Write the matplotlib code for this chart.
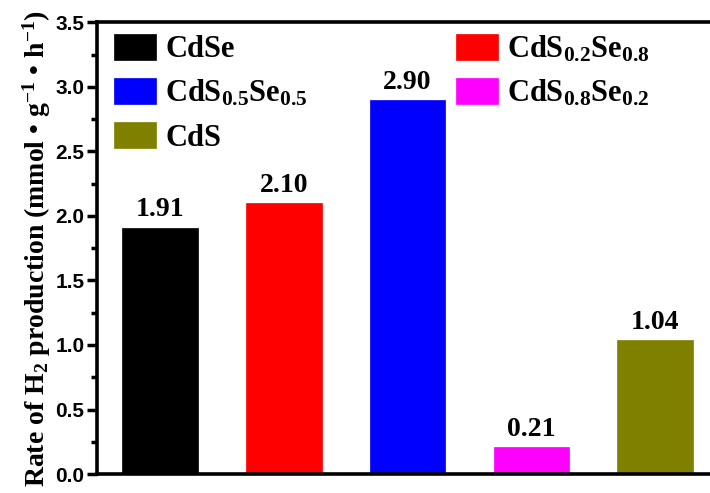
import matplotlib
matplotlib.use('Agg')
import matplotlib.pyplot as plt
from matplotlib.ticker import MultipleLocator

plt.rcParams['font.family'] = 'Liberation Serif'
plt.rcParams['font.weight'] = 'bold'
plt.rcParams['mathtext.fontset'] = 'custom'
plt.rcParams['mathtext.rm'] = 'Liberation Serif:bold'
plt.rcParams['mathtext.it'] = 'Liberation Serif:bold'
plt.rcParams['mathtext.bf'] = 'Liberation Serif:bold'

# H2 evolution rate for each photocatalyst
samples = ['CdSe', 'CdS$_{0.2}$Se$_{0.8}$', 'CdS$_{0.5}$Se$_{0.5}$',
           'CdS$_{0.8}$Se$_{0.2}$', 'CdS']
rates = [1.91, 2.10, 2.90, 0.21, 1.04]
colors = ['black', 'red', 'blue', 'magenta', 'olive']

fig = plt.figure(figsize=(7.1, 4.93), dpi=100)
ax = fig.add_axes([0.1366, 0.0385, 0.873, 0.916])

x = list(range(1, len(rates) + 1))
bars = ax.bar(x, rates, width=0.61, color=colors, edgecolor=colors, linewidth=0.5)
for xi, r in zip(x, rates):
    ax.text(xi, r + 0.04, '%.2f' % r, ha='center', va='bottom',
            fontsize=20, fontweight='bold')

ax.set_xlim(0.49, 5.5)
ax.set_ylim(0, 3.5)
ax.set_xticks([])
ax.yaxis.set_major_locator(MultipleLocator(0.5))
ax.yaxis.set_minor_locator(MultipleLocator(0.25))
ax.tick_params(axis='y', which='major', direction='out', length=7, width=2.5,
               labelsize=15, pad=2)
ax.tick_params(axis='y', which='minor', direction='out', length=4, width=2.5)
for lab in ax.get_yticklabels():
    lab.set_fontfamily('Liberation Sans')
    lab.set_fontweight('bold')
for s in ax.spines.values():
    s.set_linewidth(2.6)

ax.set_ylabel('Rate of H$_2$ production (mmol \u2022 g$^{-1}$ \u2022 h$^{-1}$)',
              fontsize=20, fontweight='bold', labelpad=2)

# legend: column-wise order black, blue, olive | red, magenta
order = [0, 2, 4, 1, 3]
ax.legend([bars[i] for i in order], [samples[i] for i in order], ncol=2,
          loc='upper left', bbox_to_anchor=(-0.007, 1.022), frameon=False,
          fontsize=22, handlelength=1.38, handleheight=0.92, handletextpad=0.3,
          columnspacing=4.85, labelspacing=0.45, borderaxespad=0.3)

fig.savefig('out.png', dpi=100)
